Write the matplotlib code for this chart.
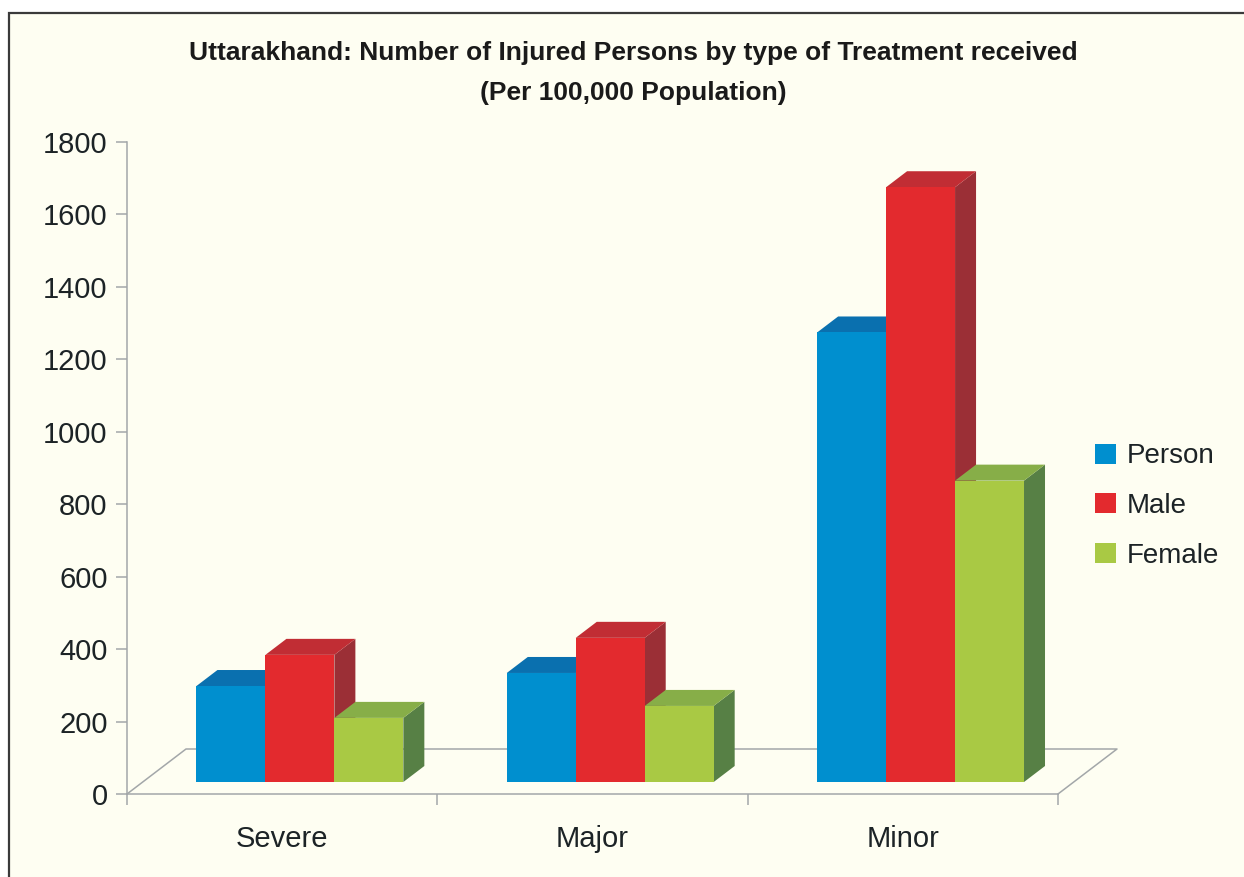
import matplotlib
matplotlib.use("Agg")
import matplotlib.pyplot as plt
from matplotlib import font_manager
from matplotlib.patches import Polygon, Rectangle, Patch

categories = ["Severe", "Major", "Minor"]
series = ["Person", "Male", "Female"]
person = [265, 301, 1241]
male = [351, 398, 1642]
female = [177, 210, 832]
yticks = [0, 200, 400, 600, 800, 1000, 1200, 1400, 1600, 1800]

front_colors = ["#008FCF", "#E32A2E", "#A9C944"]
top_colors = ["#0A70AF", "#C12D34", "#87AE48"]
side_colors = ["#0B5F92", "#9B2F36", "#578045"]

names = {f.name for f in font_manager.fontManager.ttflist}
FONT = "Liberation Sans Narrow" if "Liberation Sans Narrow" in names else "Liberation Sans"
plt.rcParams["font.family"] = [FONT, "DejaVu Sans"]

W, H = 1244, 877
fig = plt.figure(figsize=(W / 100, H / 100), dpi=100, facecolor="white")
fig.patches.append(Rectangle((9 / W, -0.05), 1.2, (H - 13) / H + 0.05,
                             transform=fig.transFigure, facecolor="#FEFEF2",
                             edgecolor="#3a3a3a", linewidth=1.6, zorder=-5))

ax = fig.add_axes([127 / W, (H - 794) / H, (1058 - 127) / W, (794 - 142) / H])
ax.set_facecolor("none")
ax.set_xlim(0, 3)
ax.set_ylim(0, 1800)

# oblique depth geometry (data units)
px_x = 3 / 931.0
px_y = 1800 / 652.0
floor_dx, floor_dy = 59 * px_x, 45 * px_y
front_frac = 12 / 45.0
bar_dx, bar_dy = 21 * px_x, 16 * px_y
shift_x, base_y = front_frac * floor_dx + 2 * px_x, front_frac * floor_dy

grey = "#A3A7A9"
ax.plot([0, floor_dx, 3 + floor_dx, 3], [0, floor_dy, floor_dy, 0],
        color=grey, lw=1.1, clip_on=False, zorder=1)

width = 2 / 9
values = [person, male, female]
for i in range(len(categories)):
    for s in range(len(series)):
        x0 = i + 1 / 6 + shift_x + s * width
        x1 = x0 + width
        y0 = base_y
        y1 = base_y + values[s][i]
        z = 3 + i * 3 + s
        ax.add_patch(Polygon([(x1, y0), (x1 + bar_dx, y0 + bar_dy),
                              (x1 + bar_dx, y1 + bar_dy), (x1, y1)],
                             closed=True, facecolor=side_colors[s], edgecolor="none",
                             zorder=z, clip_on=False))
        ax.add_patch(Polygon([(x0, y1), (x1, y1), (x1 + bar_dx, y1 + bar_dy),
                              (x0 + bar_dx, y1 + bar_dy)],
                             closed=True, facecolor=top_colors[s], edgecolor="none",
                             zorder=z, clip_on=False))
        ax.bar(x0, values[s][i], width=width, bottom=y0, align="edge",
               color=front_colors[s], linewidth=0, zorder=z)

for side in ["top", "right"]:
    ax.spines[side].set_visible(False)
for side in ["left", "bottom"]:
    ax.spines[side].set_color(grey)
    ax.spines[side].set_linewidth(1.1)

ax.set_yticks(yticks)
ax.set_yticklabels([str(v) for v in yticks])
ax.tick_params(axis="y", direction="out", length=8, width=1.1, color=grey,
               labelsize=21, labelcolor="#1c2326", pad=6)
ax.set_xticks([0, 1, 2, 3])
ax.set_xticklabels([])
ax.set_xticks([0.5, 1.5, 2.5], minor=True)
ax.set_xticklabels(categories, minor=True)
ax.tick_params(axis="x", which="major", direction="out", length=8, width=1.1, color=grey)
ax.tick_params(axis="x", which="minor", length=0, labelsize=21, labelcolor="#1c2326", pad=22)

fig.text(633 / W, 1 - 53 / H, "Uttarakhand: Number of Injured Persons by type of Treatment received",
         ha="center", va="center", fontsize=19, fontweight="bold", color="#1a1a1a")
fig.text(633 / W, 1 - 93 / H, "(Per 100,000 Population)",
         ha="center", va="center", fontsize=19, fontweight="bold", color="#1a1a1a")

handles = [Patch(facecolor=c, edgecolor="none") for c in front_colors]
fig.legend(handles, series, loc="center left", bbox_to_anchor=(1095 / W, 1 - 506 / H),
           frameon=False, fontsize=20, handlelength=0.75, handleheight=0.75,
           handletextpad=0.4, labelspacing=0.85, labelcolor="#1c2326",
           borderpad=0, borderaxespad=0)

fig.savefig("out.png", dpi=100, facecolor="white")
